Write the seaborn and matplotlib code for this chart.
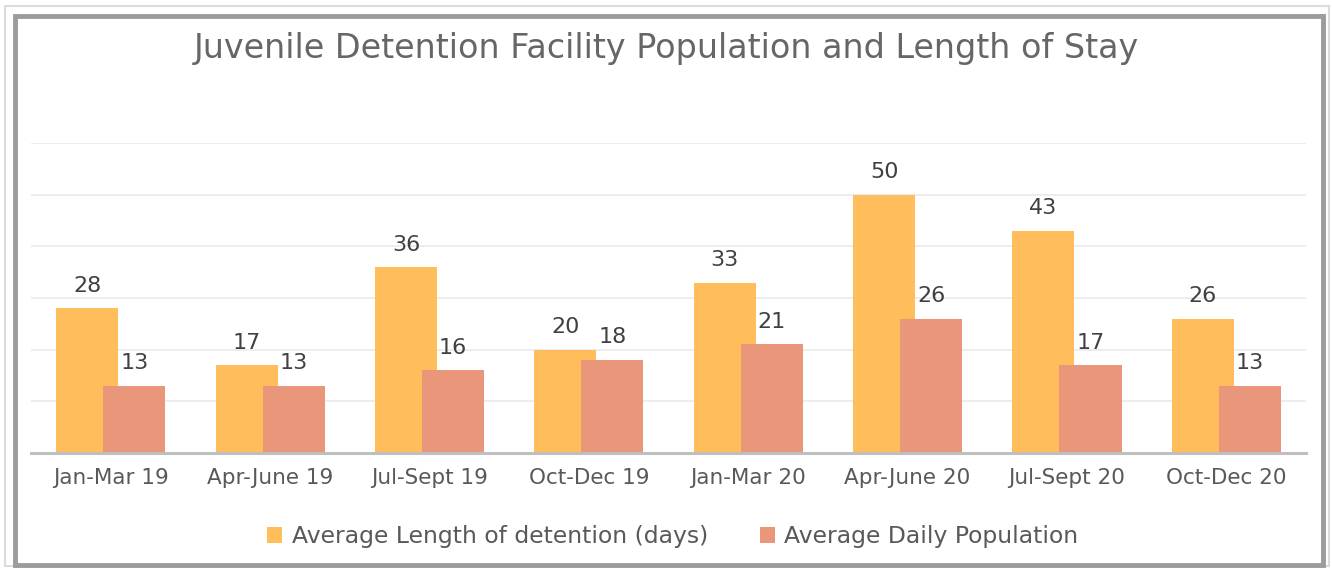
import pandas as pd
import matplotlib.pyplot as plt
import matplotlib.patches as mpatches
import seaborn as sns

quarters = ['Jan-Mar 19', 'Apr-June 19', 'Jul-Sept 19', 'Oct-Dec 19',
            'Jan-Mar 20', 'Apr-June 20', 'Jul-Sept 20', 'Oct-Dec 20']
length_days = [28, 17, 36, 20, 33, 50, 43, 26]
daily_pop = [13, 13, 16, 18, 21, 26, 17, 13]
series = ['Average Length of detention (days)', 'Average Daily Population']
colors = ['#FFBD5C', '#EA967B']

df = pd.DataFrame({
    'quarter': quarters * 2,
    'value': length_days + daily_pop,
    'series': [series[0]] * len(quarters) + [series[1]] * len(quarters),
})

sns.set_style('white')
plt.rcParams['font.family'] = ['DejaVu Sans']
text_color = '#595959'

fig = plt.figure(figsize=(13.32, 5.68), dpi=100)
ax = fig.add_axes([0.0233, 0.2025, 0.9572, 0.5457])

sns.barplot(data=df, x='quarter', y='value', hue='series', order=quarters,
            hue_order=series, palette=colors, width=0.59, gap=-0.32,
            saturation=1, linewidth=0, ax=ax, legend=True)

ax.set_ylim(0, 60)
ax.set_yticks(range(0, 61, 10))
ax.set_yticklabels([])
ax.tick_params(axis='y', length=0)
ax.tick_params(axis='x', length=0, pad=11, labelsize=15.5, labelcolor=text_color)
ax.grid(axis='y', color='#ececec', linewidth=1.3)
ax.set_axisbelow(True)
for side in ['left', 'right', 'top']:
    ax.spines[side].set_visible(False)
ax.spines['bottom'].set_color('#bfbfbf')
ax.spines['bottom'].set_linewidth(2.2)
ax.set_xlabel('')
ax.set_ylabel('')

for cont in ax.containers:
    ax.bar_label(cont, fmt='%d', padding=9, fontsize=16, color='#404040')

handles, labels = ax.get_legend_handles_labels()
ax.get_legend().remove()
fig.legend(handles, labels, loc='center', bbox_to_anchor=(0.505, 0.055), ncol=2,
           frameon=False, fontsize=16.9, labelcolor=text_color, handlelength=0.65,
           handleheight=0.65, handletextpad=0.4, columnspacing=2.2)

fig.text(0.5, 0.915, 'Juvenile Detention Facility Population and Length of Stay',
         ha='center', va='center', fontsize=24, color='#666666')

# chart frame
fig.patches.append(mpatches.Rectangle((0.004, 0.004), 0.994, 0.985, transform=fig.transFigure,
                                      fill=False, ec='#dcdcdc', lw=1.5))
fig.patches.append(mpatches.Rectangle((0.0115, 0.006), 0.982, 0.966, transform=fig.transFigure,
                                      fill=False, ec='#9c9c9c', lw=3.5))

fig.savefig('out.png', dpi=100)
